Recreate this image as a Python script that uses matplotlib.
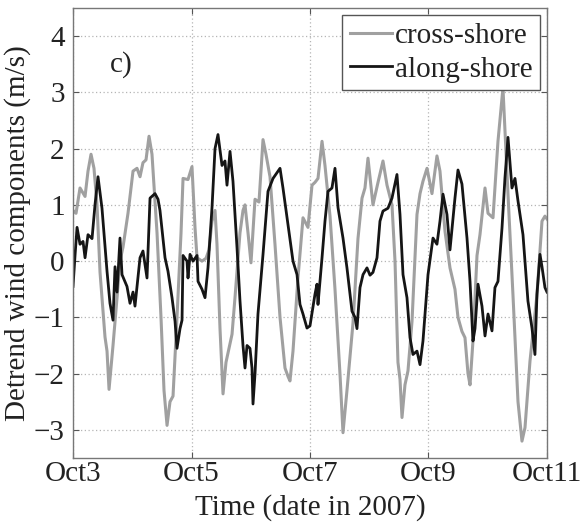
import matplotlib
matplotlib.use("Agg")
import matplotlib.pyplot as plt

# Detrended wind components, Oct 3 - Oct 11 2007.
# Time axis is in days since 2007-10-03 00:00.
cross_days = [0.000, 0.051, 0.118, 0.203, 0.253, 0.304, 0.354, 0.405, 0.456, 0.506,
              0.540, 0.574, 0.608, 0.641, 0.675, 0.743, 0.793, 0.844, 0.928, 1.013,
              1.080, 1.131, 1.181, 1.232, 1.283, 1.333, 1.418, 1.485, 1.536, 1.587,
              1.637, 1.688, 1.755, 1.823, 1.857, 1.941, 2.008, 2.059, 2.093, 2.177,
              2.245, 2.295, 2.346, 2.397, 2.430, 2.481, 2.532, 2.582, 2.684, 2.734,
              2.818, 2.869, 2.903, 2.954, 3.004, 3.072, 3.139, 3.207, 3.257, 3.325,
              3.409, 3.494, 3.578, 3.629, 3.662, 3.713, 3.797, 3.882, 3.966, 4.034,
              4.084, 4.135, 4.203, 4.253, 4.338, 4.422, 4.506, 4.557, 4.624, 4.675,
              4.726, 4.810, 4.878, 4.928, 4.979, 5.063, 5.148, 5.232, 5.300, 5.384,
              5.435, 5.485, 5.519, 5.553, 5.603, 5.654, 5.722, 5.806, 5.857, 5.907,
              5.975, 6.059, 6.143, 6.194, 6.279, 6.363, 6.447, 6.498, 6.565, 6.616,
              6.667, 6.701, 6.751, 6.819, 6.869, 6.954, 7.005, 7.089, 7.173, 7.257,
              7.342, 7.426, 7.511, 7.578, 7.629, 7.713, 7.831, 7.916, 7.966, 8.000]
cross_shore = [0.90, 0.85, 1.30, 1.15, 1.60, 1.90, 1.65, 1.00, -0.20, -0.90,
               -1.35, -1.60, -2.28, -1.90, -1.50, -0.65, 0.00, 0.25, 0.85, 1.60,
               1.65, 1.50, 1.75, 1.80, 2.22, 1.90, 0.50, -1.00, -2.30, -2.92,
               -2.50, -2.40, -1.00, 0.50, 1.47, 1.45, 1.68, 0.60, 0.06, 0.00,
               0.05, 0.20, 0.71, 0.90, 0.30, -1.20, -2.36, -1.80, -1.30, -0.65,
               0.50, 0.90, 1.00, 0.50, -0.03, 1.10, 1.05, 2.16, 1.90, 1.50,
               0.30, -1.00, -1.90, -2.05, -2.13, -1.60, -0.30, 0.77, 0.60, 1.35,
               1.40, 1.47, 2.13, 1.70, 0.80, -0.50, -2.00, -3.05, -2.30, -1.70,
               -1.10, 0.40, 1.12, 1.30, 1.83, 1.00, 1.40, 1.78, 1.35, 1.00,
               0.00, -1.80, -2.10, -2.78, -2.20, -1.95, -1.07, 0.83, 1.20, 1.42,
               1.65, 1.20, 1.87, 1.60, 0.53, -0.12, -0.50, -1.00, -1.25, -1.36,
               -2.00, -2.20, -1.42, 0.10, 0.47, 1.30, 0.85, 0.77, 2.13, 3.08,
               1.19, -0.60, -2.50, -3.20, -2.96, -1.78, -0.60, 0.71, 0.80, 0.75]

along_days = [0.000, 0.034, 0.068, 0.118, 0.169, 0.203, 0.253, 0.321, 0.371, 0.422,
              0.489, 0.574, 0.624, 0.675, 0.709, 0.743, 0.793, 0.827, 0.911, 0.962,
              1.013, 1.046, 1.131, 1.181, 1.249, 1.300, 1.384, 1.435, 1.468, 1.553,
              1.603, 1.671, 1.722, 1.755, 1.806, 1.840, 1.857, 1.924, 1.941, 1.975,
              2.025, 2.093, 2.110, 2.177, 2.228, 2.278, 2.346, 2.397, 2.447, 2.515,
              2.565, 2.599, 2.650, 2.700, 2.768, 2.818, 2.869, 2.903, 2.937, 2.987,
              3.021, 3.038, 3.072, 3.122, 3.207, 3.291, 3.376, 3.494, 3.544, 3.629,
              3.713, 3.781, 3.831, 3.882, 3.949, 4.000, 4.084, 4.118, 4.135, 4.203,
              4.253, 4.304, 4.371, 4.422, 4.473, 4.557, 4.624, 4.709, 4.760, 4.793,
              4.844, 4.895, 4.962, 5.013, 5.063, 5.131, 5.181, 5.232, 5.316, 5.384,
              5.468, 5.519, 5.570, 5.637, 5.688, 5.738, 5.806, 5.857, 5.907, 5.992,
              6.076, 6.143, 6.194, 6.245, 6.312, 6.363, 6.447, 6.498, 6.565, 6.650,
              6.701, 6.751, 6.785, 6.836, 6.903, 6.954, 7.005, 7.072, 7.122, 7.173,
              7.241, 7.291, 7.342, 7.409, 7.460, 7.511, 7.595, 7.679, 7.747, 7.797,
              7.831, 7.882, 7.916, 7.966, 8.000]
along_shore = [-0.45, 0.10, 0.60, 0.30, 0.35, 0.06, 0.47, 0.40, 1.00, 1.50,
               0.94, -0.18, -0.75, -1.05, -0.10, -0.55, 0.41, -0.24, -0.45, -0.75,
               -0.55, -0.80, 0.06, 0.18, -0.30, 1.12, 1.20, 1.10, 0.90, 0.06,
               -0.18, -0.65, -1.07, -1.55, -1.20, -1.05, 0.10, 0.00, -0.30, 0.12,
               0.00, 0.10, -0.36, -0.50, -0.65, -0.12, 0.95, 2.00, 2.25, 1.70,
               1.78, 1.35, 1.95, 1.42, 0.24, -0.70, -1.50, -1.90, -1.50, -1.55,
               -1.90, -2.54, -2.00, -0.94, 0.12, 1.24, 1.47, 1.65, 1.30, 0.65,
               0.00, -0.24, -0.77, -0.94, -1.19, -1.15, -0.59, -0.41, -0.77, 0.06,
               0.71, 1.24, 1.30, 1.65, 0.95, 0.41, -0.12, -0.89, -1.00, -1.20,
               -0.47, -0.24, -0.12, -0.25, -0.20, 0.06, 0.71, 0.89, 0.94, 1.12,
               1.54, 0.83, -0.24, -0.65, -1.36, -1.66, -1.60, -1.84, -1.42, -0.24,
               0.41, 0.30, 0.71, 1.19, 0.83, 0.20, 1.12, 1.62, 1.37, 0.41,
               -0.36, -1.42, -1.20, -0.41, -0.80, -1.33, -0.94, -1.24, -0.47, -0.36,
               0.59, 1.48, 2.20, 1.30, 1.47, 1.07, 0.47, -0.71, -1.19, -1.66,
               -0.59, 0.12, -0.10, -0.47, -0.55]

tick_days = [0, 2, 4, 6, 8]
tick_labels = ["Oct3", "Oct5", "Oct7", "Oct9", "Oct11"]
y_ticks = [-3, -2, -1, 0, 1, 2, 3, 4]

plt.rcParams["font.family"] = ["Liberation Serif", "DejaVu Serif"]
FS = 21

fig = plt.figure(figsize=(5.86, 5.22), dpi=100)
ax = fig.add_axes([0.1246, 0.1226, 0.8088, 0.8621])

ax.plot(cross_days, cross_shore, color="#a0a0a0", lw=2.2, label="cross-shore")
ax.plot(along_days, along_shore, color="#151515", lw=2.0, label="along-shore")

ax.set_xlim(0, 8)
ax.set_ylim(-3.5, 4.5)
ax.set_xticks(tick_days)
ax.set_xticklabels(tick_labels)
ax.set_yticks(y_ticks)
ax.tick_params(direction="in", top=True, right=True, length=4,
               labelsize=FS, colors="#555555", labelcolor="#222222")
ax.tick_params(axis="x", pad=2)
ax.tick_params(axis="y", pad=6)
for s in ax.spines.values():
    s.set_color("#777777")
    s.set_linewidth(1.0)
ax.grid(True, ls=(0, (1, 2)), color="#b5b5b5", lw=0.9)

ax.set_xlabel("Time (date in 2007)", fontsize=FS, color="#222222", labelpad=5)
ax.set_ylabel("Detrend wind components (m/s)", fontsize=FS, color="#222222",
              labelpad=2)
ax.text(0.62, 3.5, "c)", fontsize=FS, color="#222222", ha="left", va="center")

leg = ax.legend(loc="upper right", fontsize=FS, frameon=True, fancybox=False,
                handlelength=1.45, handletextpad=0.1, borderpad=0.25,
                borderaxespad=0.25, labelspacing=0.25)
leg.get_frame().set_edgecolor("#555555")
leg.get_frame().set_linewidth(1.0)
leg.get_frame().set_alpha(1.0)
for t in leg.get_texts():
    t.set_color("#222222")

fig.savefig("out.png", dpi=100)
